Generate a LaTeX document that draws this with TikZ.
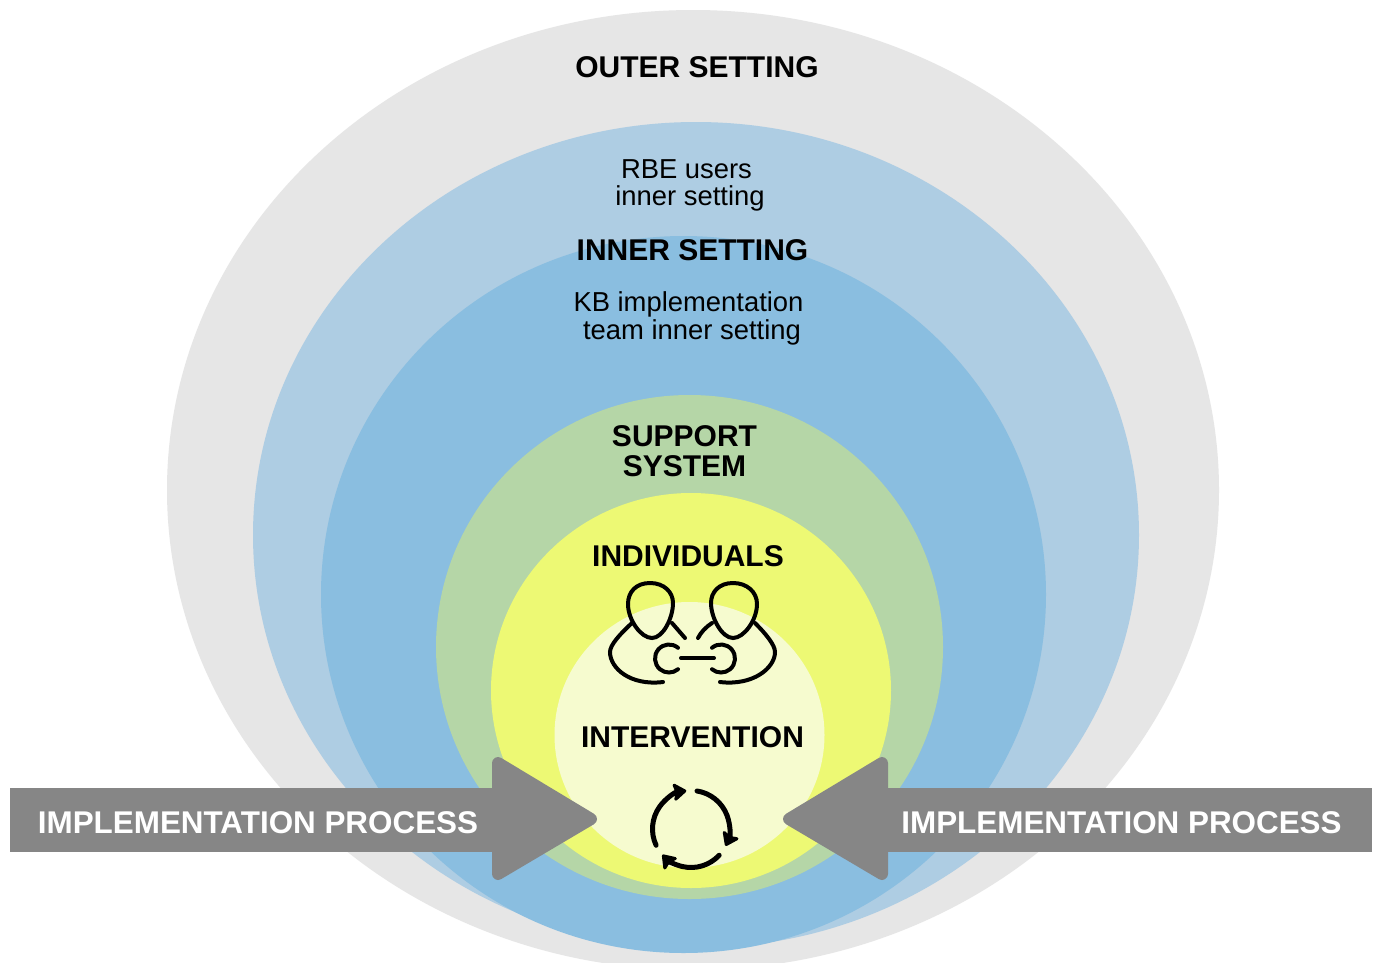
\documentclass[tikz,border=0pt]{standalone}
\usepackage{fontspec}
\setmainfont{Liberation Sans}
\usetikzlibrary{arrows.meta}
\definecolor{outergray}{HTML}{E6E6E6}
\definecolor{paleblue}{HTML}{AECDE3}
\definecolor{midblue}{HTML}{8ABEE0}
\definecolor{softgreen}{HTML}{B5D6A7}
\definecolor{brightyellow}{HTML}{EDF974}
\definecolor{paleyellow}{HTML}{F6FBCF}
\definecolor{arrowgray}{HTML}{868686}

\begin{document}
\begin{tikzpicture}[
    x=1pt, y=-1pt,
    title/.style={font=\fontsize{30}{30}\selectfont\bfseries, inner sep=0pt},
    plain/.style={font=\fontsize{27.4}{27.4}\selectfont, inner sep=0pt},
    banner/.style={font=\fontsize{31.4}{31.4}\selectfont\bfseries, text=white, inner sep=0pt},
    arrowbody/.style={fill=arrowgray},
    arrowhead/.style={fill=arrowgray, draw=arrowgray, line width=12pt, line join=round},
    icon/.style={draw=black, line width=4pt, line cap=round},
    cycle/.style={icon, line width=5pt, -{Stealth[round, length=15pt, width=21pt, inset=3pt]}},
    ]
    \path[use as bounding box, clip] (0,0) rectangle (1377,962);
    \fill[white] (0,0) rectangle (1377,962);

    % nested settings
    \fill[outergray] (693,490) ellipse [x radius=526, y radius=480];
    \fill[paleblue] (696,535) ellipse [x radius=443, y radius=413];
    \fill[midblue] (683.5,594.5) ellipse [x radius=362.5, y radius=358.5];
    \fill[softgreen] (689.5,647) ellipse [x radius=253.5, y radius=252];
    \fill[brightyellow] (691,690.5) ellipse [x radius=200, y radius=197.5];
    \fill[paleyellow] (689.5,735) ellipse [x radius=135, y radius=133];

    % labels
    \node[title] (outer) at (697,67) {OUTER SETTING};
    \node[plain] (rbe) at (686.5,169) {RBE users};
    \node[plain] (rbeinner) at (690,198) {inner setting};
    \node[title] (inner) at (692.5,250) {INNER SETTING};
    \node[plain] (kb) at (688.5,304) {KB implementation};
    \node[plain] (kbteam) at (692,332) {team inner setting};
    \node[title] (support) at (684.5,436) {SUPPORT};
    \node[title] (system) at (684.5,466) {SYSTEM};
    \node[title] (individuals) at (688,556) {INDIVIDUALS};
    \node[title] (intervention) at (692.5,737) {INTERVENTION};

    % two people
    \draw[icon] (650,583) .. controls (636,583) and (628,592) .. (628,604)
        .. controls (628,620) and (641,638) .. (652,638)
        .. controls (663,638) and (673,618) .. (673,603)
        .. controls (673,592) and (664,583) .. (650,583);
    \draw[icon] (733,583) .. controls (719,583) and (711,592) .. (711,603)
        .. controls (711,618) and (722,638) .. (733,638)
        .. controls (744,638) and (757,620) .. (757,604)
        .. controls (757,592) and (747,583) .. (733,583);
    \draw[icon] (632,623) .. controls (620,634) and (610,645) .. (610,652)
        .. controls (610,668) and (630,686) .. (663,682);
    \draw[icon] (755,623) .. controls (766,634) and (775,645) .. (775,652)
        .. controls (775,668) and (753,686) .. (720,682);
    \draw[icon] (672,623) -- (685,638);
    \draw[icon] (712,623) .. controls (706,627) and (701,632) .. (698,638);
    \draw[icon] (669,658.5) ++(310:14) arc [start angle=310, end angle=50, radius=14];
    \draw[icon] (721,658.5) ++(-130:14) arc [start angle=-130, end angle=130, radius=14];
    \draw[icon] (681,658) -- (714,658);

    % cycle
    \draw[cycle] (691,829) ++(155:38.5) arc [start angle=155, end angle=263, radius=38.5];
    \draw[cycle] (691,829) ++(279:38.5) arc [start angle=279, end angle=386, radius=38.5];
    \draw[cycle] (691,829) ++(43:38.5) arc [start angle=43, end angle=138, radius=38.5];

    % process arrows
    \fill[arrowbody] (10,788) rectangle (500,852);
    \draw[arrowhead] (498,763) -- (591,819) -- (498,874) -- cycle;
    \fill[arrowbody] (880,788) rectangle (1372,852);
    \draw[arrowhead] (882,763) -- (789,819) -- (882,874) -- cycle;
    \node[banner] (leftprocess) at (258,823) {IMPLEMENTATION PROCESS};
    \node[banner] (rightprocess) at (1121.5,823) {IMPLEMENTATION PROCESS};
\end{tikzpicture}
\end{document}
